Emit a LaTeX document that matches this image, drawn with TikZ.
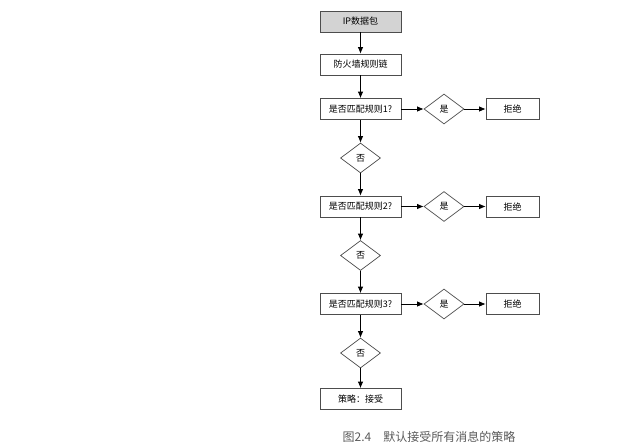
\documentclass[tikz,border=0pt]{standalone}
\usepackage{fontspec}
\setmainfont{Noto Sans CJK SC}
\usetikzlibrary{positioning,shapes.geometric,arrows.meta}
\definecolor{boxgray}{HTML}{D3D3D3}
\definecolor{linegray}{HTML}{4D4D4D}
\definecolor{captiongray}{HTML}{5A5A5A}

\begin{document}
\begin{tikzpicture}[
  x=1pt, y=-1pt,
  % Node styles
  box/.style={
    rectangle,
    draw=linegray,
    fill=white,
    minimum width=81pt,
    minimum height=21pt,
    inner sep=0pt,
    font=\fontsize{9}{10}\selectfont,
    line width=0.7pt,
  },
  start box/.style={
    box,
    fill=boxgray,
  },
  reject box/.style={
    box,
    minimum width=53pt,
  },
  decision/.style={
    diamond,
    draw=linegray,
    fill=white,
    minimum width=40pt,
    minimum height=30pt,
    inner sep=0pt,
    font=\fontsize{9}{10}\selectfont,
    line width=0.7pt,
  },
  % Edge style
  flow/.style={
    draw=black,
    line width=0.8pt,
    -{Latex[length=6.5pt,width=5.5pt]},
  },
]
  \useasboundingbox (0,0) rectangle (631,447);

  % Spacing constants (in px)
  \pgfmathsetmacro{\midx}{360.5}   % x of the main column
  \pgfmathsetmacro{\rulesep}{97.5}  % vertical distance between rule boxes

  % Top of the chain
  \node[start box] (packet) at (\midx, 21.5) {IP数据包};
  \node[box] (chain) at (\midx, 64.5) {防火墙规则链};
  \draw[flow] (packet) -- (chain);

  % Rules 1..3, each with a yes branch and a no branch
  \foreach \i in {1,...,3} {
    \pgfmathsetmacro{\ypos}{109 + (\i - 1) * \rulesep}
    \node[box] (R-\i) at (\midx, \ypos) {是否匹配规则\i?};
    \node[decision] (Y-\i) at (444, \ypos) {是};
    \node[reject box] (D-\i) at (512.5, \ypos) {拒绝};
    \node[decision] (N-\i) at (\midx, \ypos + 49) {否};
    \draw[flow] (R-\i) -- (Y-\i);
    \draw[flow] (Y-\i) -- (D-\i);
    \draw[flow] (R-\i) -- (N-\i);
  }

  % Links between the rules
  \draw[flow] (chain) -- (R-1);
  \draw[flow] (N-1) -- (R-2);
  \draw[flow] (N-2) -- (R-3);

  % Default policy
  \node[box] (accept) at (\midx, 399) {策略：接受};
  \draw[flow] (N-3) -- (accept);

  % Caption
  \node[font=\fontsize{12}{14}\selectfont, text=captiongray] (caption) at (429, 437) {图2.4\quad 默认接受所有消息的策略};

\end{tikzpicture}
\end{document}
